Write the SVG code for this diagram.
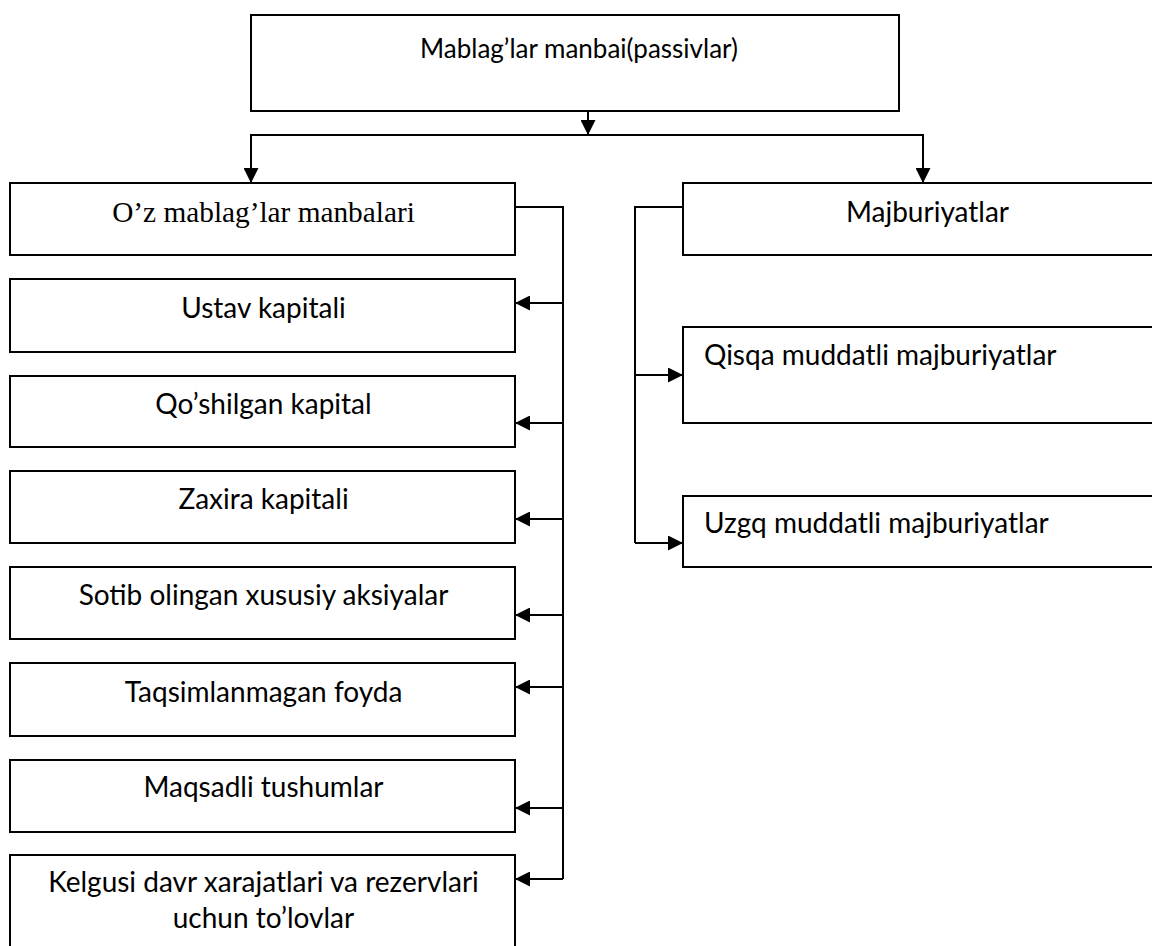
<svg xmlns="http://www.w3.org/2000/svg" width="1152" height="946" viewBox="0 0 1152 946">
<style>
.box{fill:#fff;stroke:#000;stroke-width:2}
.t{font-family:Lato,"Open Sans",sans-serif;font-size:28px;fill:#000}
.c{text-anchor:middle}
.s{font-family:"Liberation Serif","Times New Roman",serif;font-size:29.3px;fill:#000;text-anchor:middle}
.ln{fill:none;stroke:#000;stroke-width:2}
</style>
<defs>
<marker id="ah" markerUnits="userSpaceOnUse" markerWidth="16" markerHeight="15" refX="15" refY="7.5" orient="auto">
<path d="M0,0 L15,7.5 L0,15 z" fill="#000"/>
</marker>
</defs>
<rect width="1152" height="946" fill="#fff"/>
<g id="connectors">
<line class="ln" x1="588" y1="111" x2="588" y2="135" marker-end="url(#ah)"/>
<polyline class="ln" points="251,183 251,135 923,135 923,183"/>
<line class="ln" x1="251" y1="135" x2="251" y2="183" marker-end="url(#ah)"/>
<line class="ln" x1="923" y1="135" x2="923" y2="183" marker-end="url(#ah)"/>
<polyline class="ln" points="515,207 563,207 563,879"/>
<line class="ln" x1="563" y1="303" x2="515" y2="303" marker-end="url(#ah)"/>
<line class="ln" x1="563" y1="423" x2="515" y2="423" marker-end="url(#ah)"/>
<line class="ln" x1="563" y1="519" x2="515" y2="519" marker-end="url(#ah)"/>
<line class="ln" x1="563" y1="615" x2="515" y2="615" marker-end="url(#ah)"/>
<line class="ln" x1="563" y1="687" x2="515" y2="687" marker-end="url(#ah)"/>
<line class="ln" x1="563" y1="808" x2="515" y2="808" marker-end="url(#ah)"/>
<line class="ln" x1="563" y1="879" x2="515" y2="879" marker-end="url(#ah)"/>
<polyline class="ln" points="683,207 635,207 635,543"/>
<line class="ln" x1="635" y1="375" x2="683" y2="375" marker-end="url(#ah)"/>
<line class="ln" x1="635" y1="543" x2="683" y2="543" marker-end="url(#ah)"/>
</g>
<g id="top">
<rect class="box" x="251" y="15" width="648" height="96"/>
<text class="t c" x="579" y="58" style="font-size:26px">Mablag’lar manbai(passivlar)</text>
</g>
<g id="oz">
<rect class="box" x="10" y="183" width="505" height="72"/>
<text class="s" x="263.5" y="222">O’z mablag’lar manbalari</text>
</g>
<g id="majb">
<rect class="box" x="683" y="183" width="480" height="72"/>
<text class="t c" x="927.5" y="222">Majburiyatlar</text>
</g>
<g id="ustav">
<rect class="box" x="10" y="279" width="505" height="73"/>
<text class="t c" x="263.5" y="318">Ustav kapitali</text>
</g>
<g id="qoshilgan">
<rect class="box" x="10" y="376" width="505" height="71"/>
<text class="t c" x="263.5" y="414">Qo’shilgan kapital</text>
</g>
<g id="zaxira">
<rect class="box" x="10" y="471" width="505" height="72"/>
<text class="t c" x="263.5" y="509">Zaxira kapitali</text>
</g>
<g id="sotib">
<rect class="box" x="10" y="567" width="505" height="72"/>
<text class="t c" x="263.5" y="605">Sotib olingan xususiy aksiyalar</text>
</g>
<g id="taqsim">
<rect class="box" x="10" y="663" width="505" height="73"/>
<text class="t c" x="263.5" y="702">Taqsimlanmagan foyda</text>
</g>
<g id="maqsadli">
<rect class="box" x="10" y="760" width="505" height="72"/>
<text class="t c" x="263.5" y="797">Maqsadli tushumlar</text>
</g>
<g id="kelgusi">
<rect class="box" x="10" y="855" width="505" height="100"/>
<text class="t c" x="263.5" y="892">Kelgusi davr xarajatlari va rezervlari</text>
<text class="t c" x="263.5" y="928">uchun to’lovlar</text>
</g>
<g id="qisqa">
<rect class="box" x="683" y="327" width="480" height="96"/>
<text class="t" x="704" y="365">Qisqa muddatli majburiyatlar</text>
</g>
<g id="uzgq">
<rect class="box" x="683" y="496" width="480" height="71"/>
<text class="t" x="704" y="533">Uzgq muddatli majburiyatlar</text>
</g>
</svg>
